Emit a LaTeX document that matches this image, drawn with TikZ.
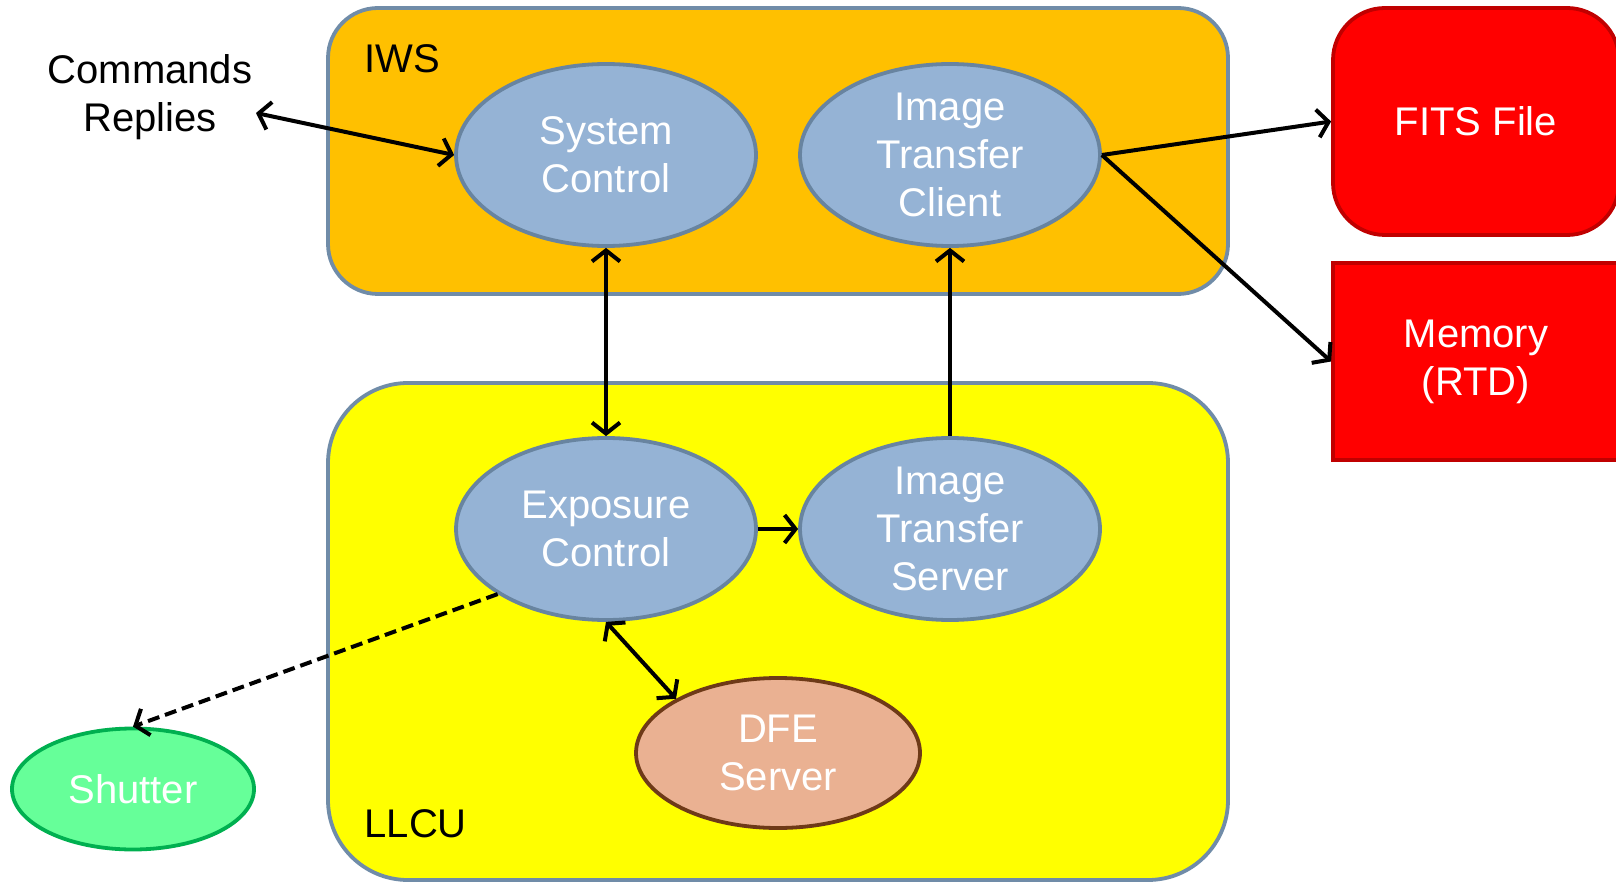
\documentclass[tikz,border=0pt]{standalone}
\usepackage{fontspec}
\setmainfont{Liberation Sans}
\usetikzlibrary{positioning,arrows.meta,shapes.geometric}
\definecolor{iwsfill}{HTML}{FFC000}
\definecolor{llcufill}{HTML}{FFFF00}
\definecolor{grpline}{RGB}{112,140,168}
\definecolor{procfill}{RGB}{149,179,213}
\definecolor{procline}{RGB}{104,132,160}
\definecolor{outfill}{HTML}{FF0000}
\definecolor{outline}{HTML}{C00000}
\definecolor{dfefill}{RGB}{234,177,146}
\definecolor{dfeline}{RGB}{110,58,24}
\definecolor{shutfill}{HTML}{66FF99}
\definecolor{shutline}{HTML}{00B050}
\tikzset{
  grp/.style={rectangle,draw=grpline,line width=3.8pt,inner sep=0pt},
  grplbl/.style={anchor=west,text=black},
  proc/.style={ellipse,draw=procline,fill=procfill,line width=3.8pt,text=white,
    minimum width=300pt,minimum height=182pt,inner sep=-15pt,align=center},
  dev/.style={ellipse,line width=3.8pt,text=white,inner sep=-15pt,align=center},
  outbox/.style={rectangle,draw=outline,fill=outfill,line width=3.8pt,text=white,
    minimum width=286pt,inner sep=0pt,align=center},
  flow/.style={line width=4pt,-{Straight Barb[length=11pt,width=28pt]}},
  flowb/.style={line width=4pt,{Straight Barb[length=11pt,width=28pt]}-{Straight Barb[length=11pt,width=28pt]}},
  sig/.style={flow,dash pattern=on 12pt off 6pt},
}
\begin{document}
\begin{tikzpicture}[x=1pt,y=-1pt,font=\fontsize{40}{48}\selectfont]
  \useasboundingbox (0,0) rectangle (1616,882);
  % ---- groups ----
  \node[grp,fill=iwsfill,rounded corners=50pt,minimum width=900pt,minimum height=286pt] (iws) at (778,151) {};
  \node[grp,fill=llcufill,rounded corners=80pt,minimum width=900pt,minimum height=497pt] (llcu) at (778,631.5) {};
  \node[grplbl] (iwslbl) at (361,59) {IWS};
  \node[grplbl] (llculbl) at (361,824) {LLCU};
  % ---- processes ----
  \node[proc] (sys) at (606,155) {System\\Control};
  \node[proc] (itc) at (950,155) {Image\\Transfer\\Client};
  \node[proc] (exp) at (606,529) {Exposure\\Control};
  \node[proc] (its) at (950,529) {Image\\Transfer\\Server};
  \node[dev,draw=dfeline,fill=dfefill,minimum width=284pt,minimum height=150pt] (dfe) at (778,753) {DFE\\Server};
  \node[dev,draw=shutline,fill=shutfill,minimum width=242pt,minimum height=121pt] (shut) at (133,789) {Shutter};
  % ---- outputs ----
  \node[outbox,rounded corners=52pt,minimum height=227pt] (fits) at (1476,121.5) {FITS File};
  \node[outbox,minimum height=197pt] (mem) at (1476,361.5) {Memory\\(RTD)};
  \node[align=center] (cmd) at (150,97) {Commands\\Replies};
  \coordinate (cmdend) at (256,113);
  % ---- connections ----
  \draw[flowb] (cmdend) -- (sys.west);
  \draw[flowb] (sys.south) -- (exp.north);
  \draw[flow] (exp.east) -- (its.west);
  \draw[flow] (its.north) -- (itc.south);
  \draw[flow] (itc.east) -- (fits.west);
  \draw[flow] (itc.east) -- (mem.west);
  \draw[flowb] (exp.south) -- (dfe.152);
  \draw[sig] (exp.211) -- (shut.north);
\end{tikzpicture}
\end{document}
